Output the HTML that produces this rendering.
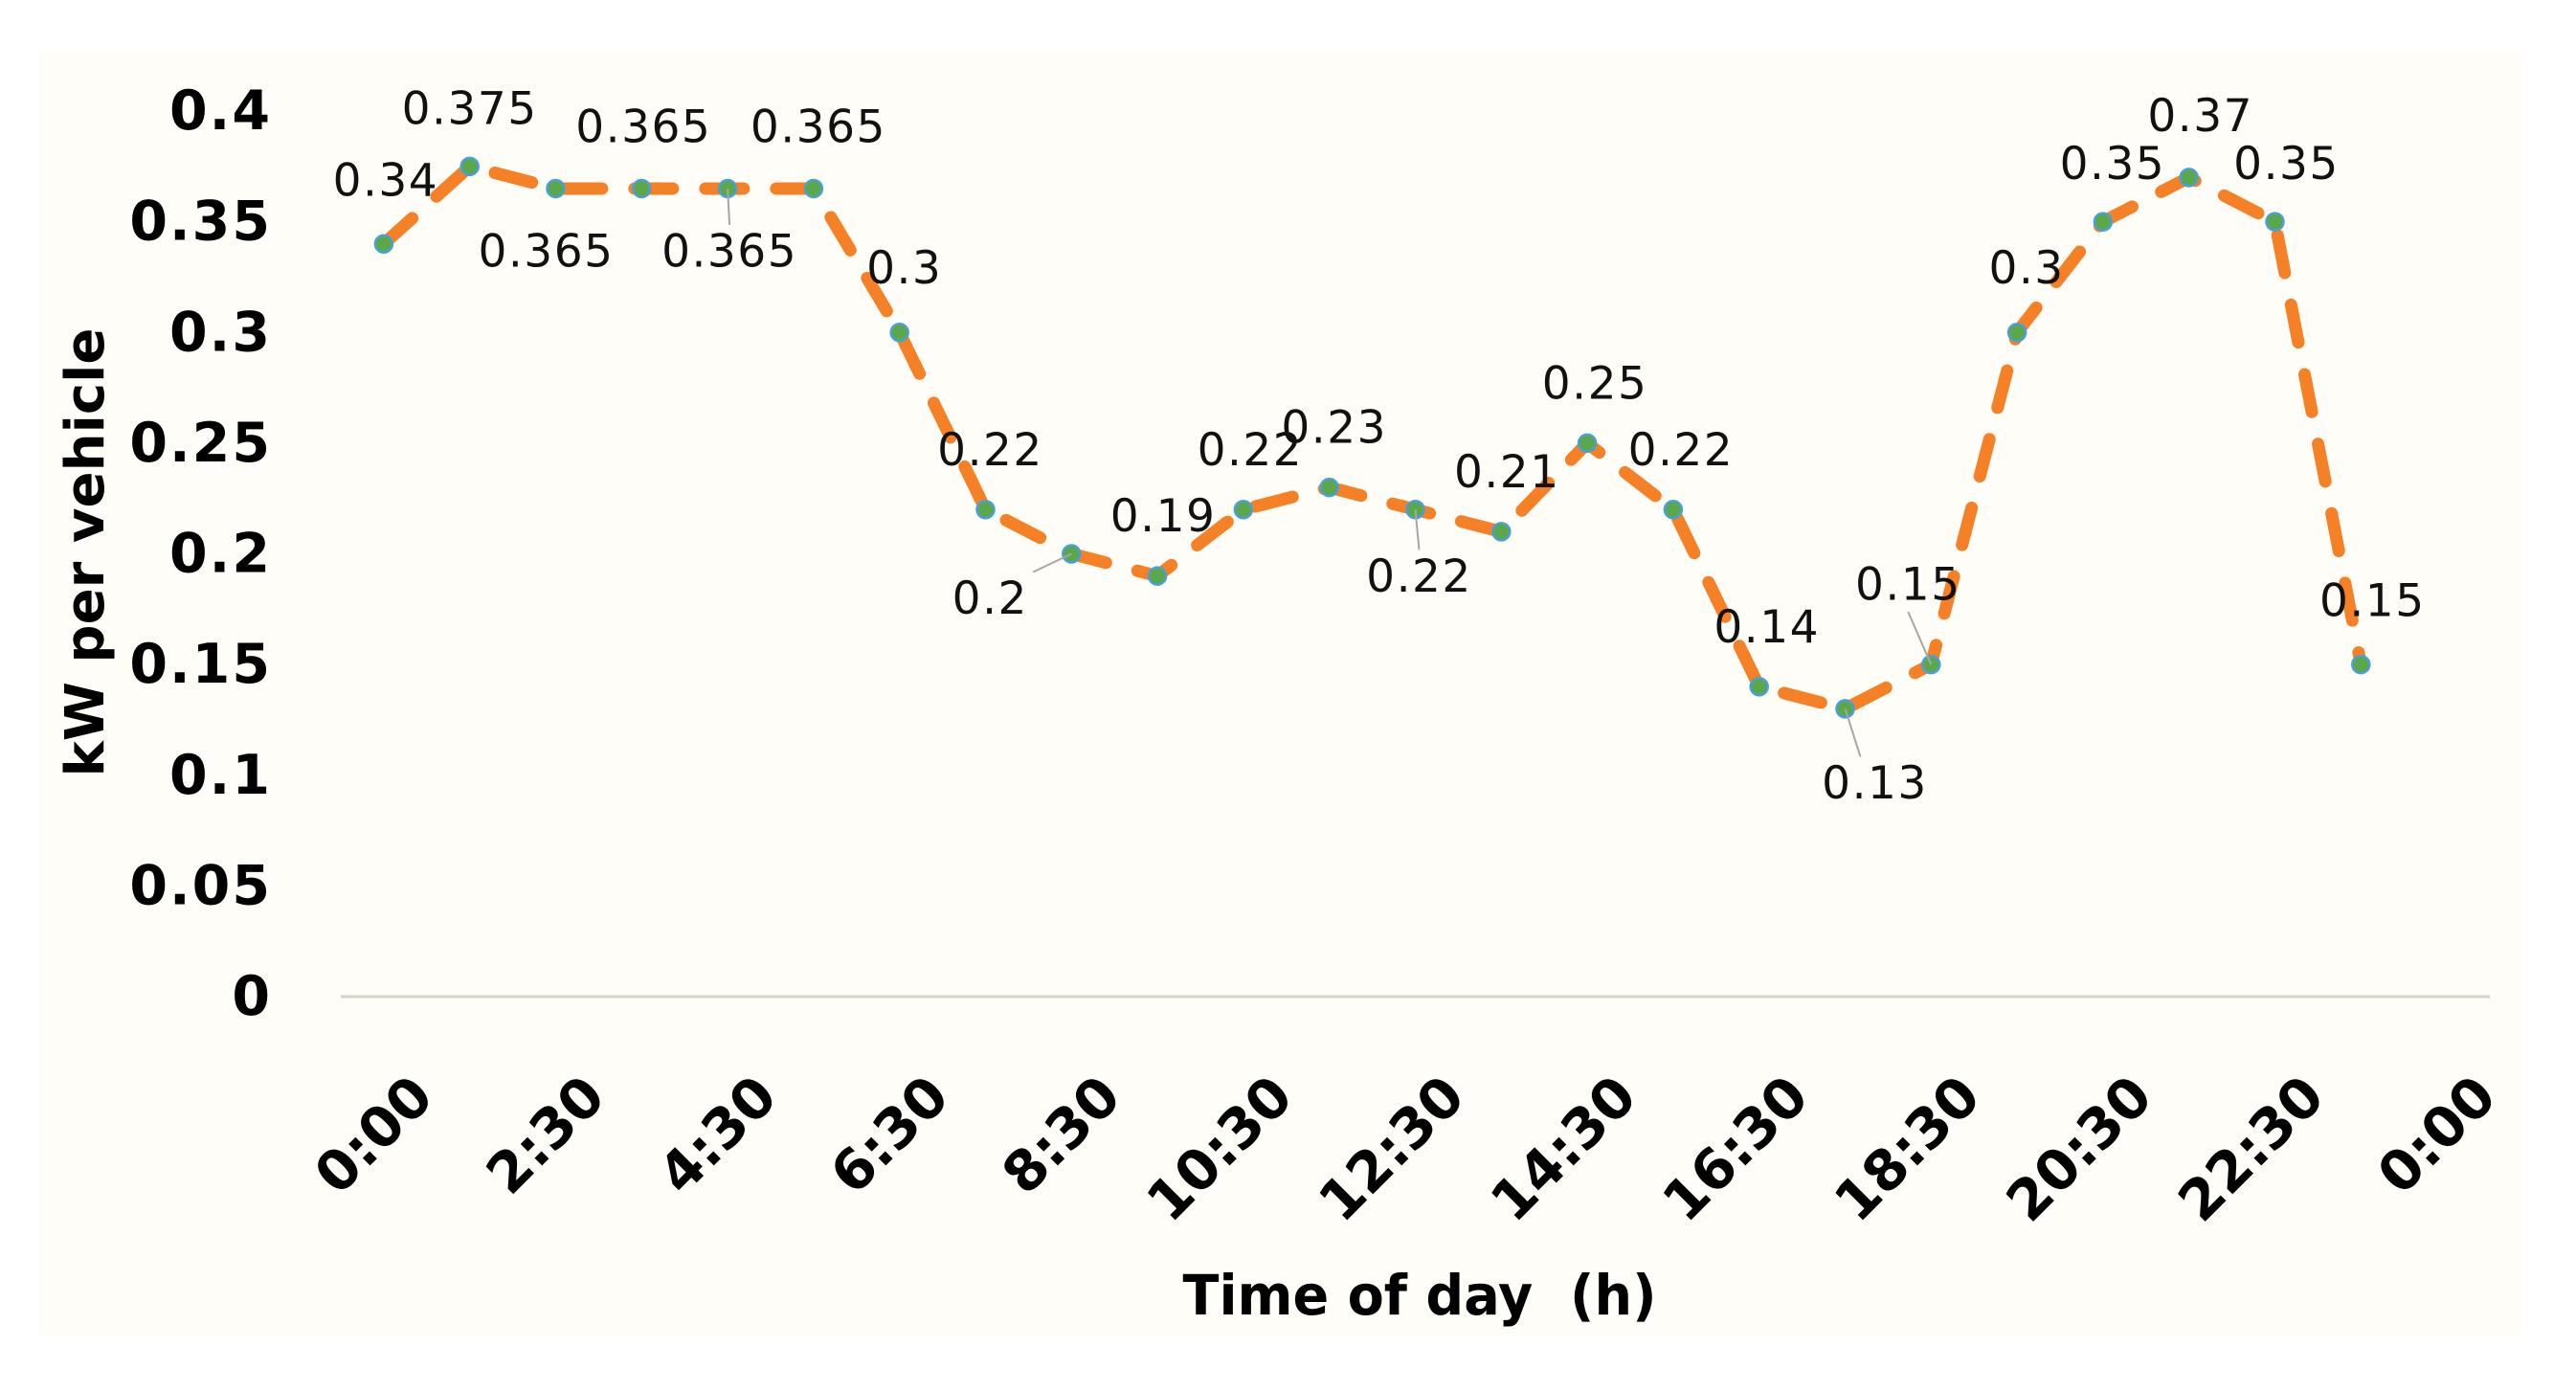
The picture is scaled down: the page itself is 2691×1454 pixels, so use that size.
<!DOCTYPE html>
<html><head><meta charset="utf-8"><style>
html,body{margin:0;padding:0;background:#fff}
svg{display:block}
</style></head><body>
<svg id="chart" width="2691" height="1454" viewBox="0 0 2691 1454" xmlns="http://www.w3.org/2000/svg">
<rect x="41" y="51" width="2594" height="1345" fill="#FEFDF7"/>
<g id="yticks"></g>
<g id="xticks"></g>
<line id="xaxis" stroke="#D9D0C8" stroke-width="3"/>
<g id="series"></g>
<g id="labels"></g>
<text transform="translate(108,577) rotate(-90)" text-anchor="middle" font-family="'DejaVu Sans', sans-serif" font-weight="bold" font-size="56" textLength="469" lengthAdjust="spacingAndGlyphs" fill="#000">kW per vehicle</text>
<text x="1483" y="1373" text-anchor="middle" font-family="'DejaVu Sans', sans-serif" font-weight="bold" font-size="58" textLength="495" lengthAdjust="spacingAndGlyphs" fill="#000" xml:space="preserve">Time of day  (h)</text>
</svg>
<script>
const values = [0.34,0.375,0.365,0.365,0.365,0.365,0.3,0.22,0.2,0.19,0.22,0.23,0.22,0.21,0.25,0.22,0.14,0.13,0.15,0.3,0.35,0.37,0.35,0.15];
const valueLabels = ["0.34","0.375","0.365","0.365","0.365","0.365","0.3","0.22","0.2","0.19","0.22","0.23","0.22","0.21","0.25","0.22","0.14","0.13","0.15","0.3","0.35","0.37","0.35","0.15"];
const xTickLabels = ["0:00","2:30","4:30","6:30","8:30","10:30","12:30","14:30","16:30","18:30","20:30","22:30","0:00"];
const yTickValues = [0,0.05,0.1,0.15,0.2,0.25,0.3,0.35,0.4];
const yTickLabels = ["0","0.05","0.1","0.15","0.2","0.25","0.3","0.35","0.4"];
const labelOffsets = [[2,-66],[0,-60],[-10,66],[2,-64],[2,66],[5,-64],[5,-67],[5,-62],[-85,47],[6,-62],[7,-62],[5,-62],[4,70],[6,-62],[8,-62],[8,-62],[8,-62],[31,78],[-24,-83],[10,-67],[10,-60],[12,-64],[12,-60],[12,-66]];
const leaders = {4:true,8:true,12:true,17:true,18:true};

const NS="http://www.w3.org/2000/svg";
const plotL=356, plotR=2601, nCat=25, y0=1041, yMax=0.4, yTop=116;
const catW=(plotR-plotL)/nCat;
function xPos(i){return plotL+catW*(i+0.5);}
function yPos(v){return y0-(v/yMax)*(y0-yTop);}
function mk(tag,attrs,parent){const e=document.createElementNS(NS,tag);for(const k in attrs)e.setAttribute(k,attrs[k]);parent.appendChild(e);return e;}

const xa=document.getElementById('xaxis');
xa.setAttribute('x1',plotL);xa.setAttribute('x2',plotR);xa.setAttribute('y1',y0);xa.setAttribute('y2',y0);

const yt=document.getElementById('yticks');
yTickValues.forEach((v,i)=>{
  const t=mk('text',{x:284,y:yPos(v),'text-anchor':'end','dominant-baseline':'central','font-family':"'DejaVu Sans', sans-serif",'font-weight':'bold','font-size':57,'letter-spacing':2,fill:'#000'},yt);
  
  
  t.textContent=yTickLabels[i];
});

const xt=document.getElementById('xticks');
xTickLabels.forEach((lab,i)=>{
  const cx=xPos(i*2);
  const t=mk('text',{transform:`translate(${cx+24},${1118}) rotate(-45)`,'text-anchor':'end','dominant-baseline':'hanging','font-family':"'DejaVu Sans', sans-serif",'font-weight':'bold','font-size':58,fill:'#000'},xt);
  
  
  t.textContent=lab;
});

const sg=document.getElementById('series');
const pts=values.map((v,i)=>xPos(i)+','+yPos(v)).join(' ');
const pl=mk('polyline',{points:pts,fill:'none',stroke:'#F58025','stroke-width':13,'stroke-dasharray':'40 34','stroke-linecap':'round','stroke-linejoin':'round'},sg);


values.forEach((v,i)=>{
  const c=mk('circle',{cx:xPos(i),cy:yPos(v),r:9,fill:'#5BA84A',stroke:'#4A9FD8','stroke-width':2.5},sg);
  
  
});

const lg=document.getElementById('labels');
values.forEach((v,i)=>{
  const px=xPos(i), py=yPos(v);
  const lx=px+labelOffsets[i][0], ly=py+labelOffsets[i][1];
  if(leaders[i]){
    const sx = lx + (labelOffsets[i][0]<-40?45:(labelOffsets[i][0]>20?-15:0));
    const sy = ly + (labelOffsets[i][1]>0?-28:28);
    const ln=mk('line',{x1:sx,y1:sy,x2:px,y2:py,stroke:'#A6A6A6','stroke-width':2},lg);
    
    
  }
  const t=mk('text',{x:lx,y:ly,'text-anchor':'middle','dominant-baseline':'central','font-family':"'DejaVu Sans', sans-serif",'font-size':47,'letter-spacing':1.5,fill:'#111'},lg);
  
  
  t.textContent=valueLabels[i];
});
</script>
</body></html>
